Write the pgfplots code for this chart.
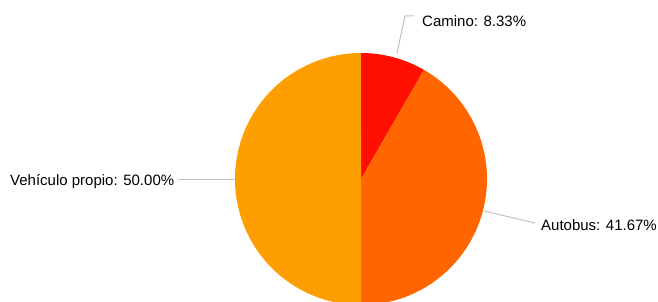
\documentclass[border=0pt]{standalone}
\usepackage{fontspec}
\setmainfont{Liberation Sans}
\usepackage{pgfplots}
\usepackage{pgfplotstable}
\pgfplotsset{compat=1.18}
\definecolor{cA}{HTML}{FF0F00}
\definecolor{cB}{HTML}{FF6600}
\definecolor{cC}{HTML}{FF9E01}
\definecolor{lineg}{HTML}{C0C0C0}
\pgfplotstableread{
label value
Camino 8.33
Autobus 41.67
Vehiculo 50.00
}\piedata
\pgfplotstablegetelem{0}{value}\of\piedata \let\va\pgfplotsretval
\pgfplotstablegetelem{1}{value}\of\piedata \let\vb\pgfplotsretval
\pgfplotstablegetelem{2}{value}\of\piedata \let\vc\pgfplotsretval
\pgfmathsetmacro\aA{0}
\pgfmathsetmacro\aB{3.6*\va}
\pgfmathsetmacro\aC{\aB+3.6*\vb}
\pgfmathsetmacro\aD{\aC+3.6*\vc}
\tikzset{lbl/.style={font=\fontsize{15}{18}\selectfont, text=black, inner sep=0pt, anchor=west}}
\begin{document}
\begin{tikzpicture}
\begin{axis}[
  scale only axis, width=658pt, height=302pt,
  xmin=0, xmax=658, ymin=0, ymax=302, y dir=reverse,
  hide axis, clip=true,
]
\addplot[fill=cA, draw=none, domain=\aA:\aB, samples=30, variable=\t]
  ({361+126*sin(\t)}, {179-126*cos(\t)}) -- (axis cs:361,179) -- cycle;
\addplot[fill=cB, draw=none, domain=\aB:\aC, samples=80, variable=\t]
  ({361+126*sin(\t)}, {179-126*cos(\t)}) -- (axis cs:361,179) -- cycle;
\addplot[fill=cC, draw=none, domain=\aC:\aD, samples=100, variable=\t]
  ({361+126*sin(\t)}, {179-126*cos(\t)}) -- (axis cs:361,179) -- cycle;
% connectors
\addplot[lineg, line width=1pt, mark=none] coordinates {(397,53) (405,16) (414,16)};
\addplot[lineg, line width=1pt, mark=none] coordinates {(484,211) (535,223)};
\addplot[lineg, line width=1pt, mark=none] coordinates {(178,179) (235,179)};
\node[lbl] at (axis cs:422,21) {Camino: 8.33\%};
\node[lbl] at (axis cs:541,225) {Autobus: 41.67\%};
\node[lbl] at (axis cs:10,182) {Vehículo propio: 50.00\%};
\end{axis}
\pgfresetboundingbox
\path (0,0) rectangle (658pt,302pt);
\end{tikzpicture}
\end{document}
